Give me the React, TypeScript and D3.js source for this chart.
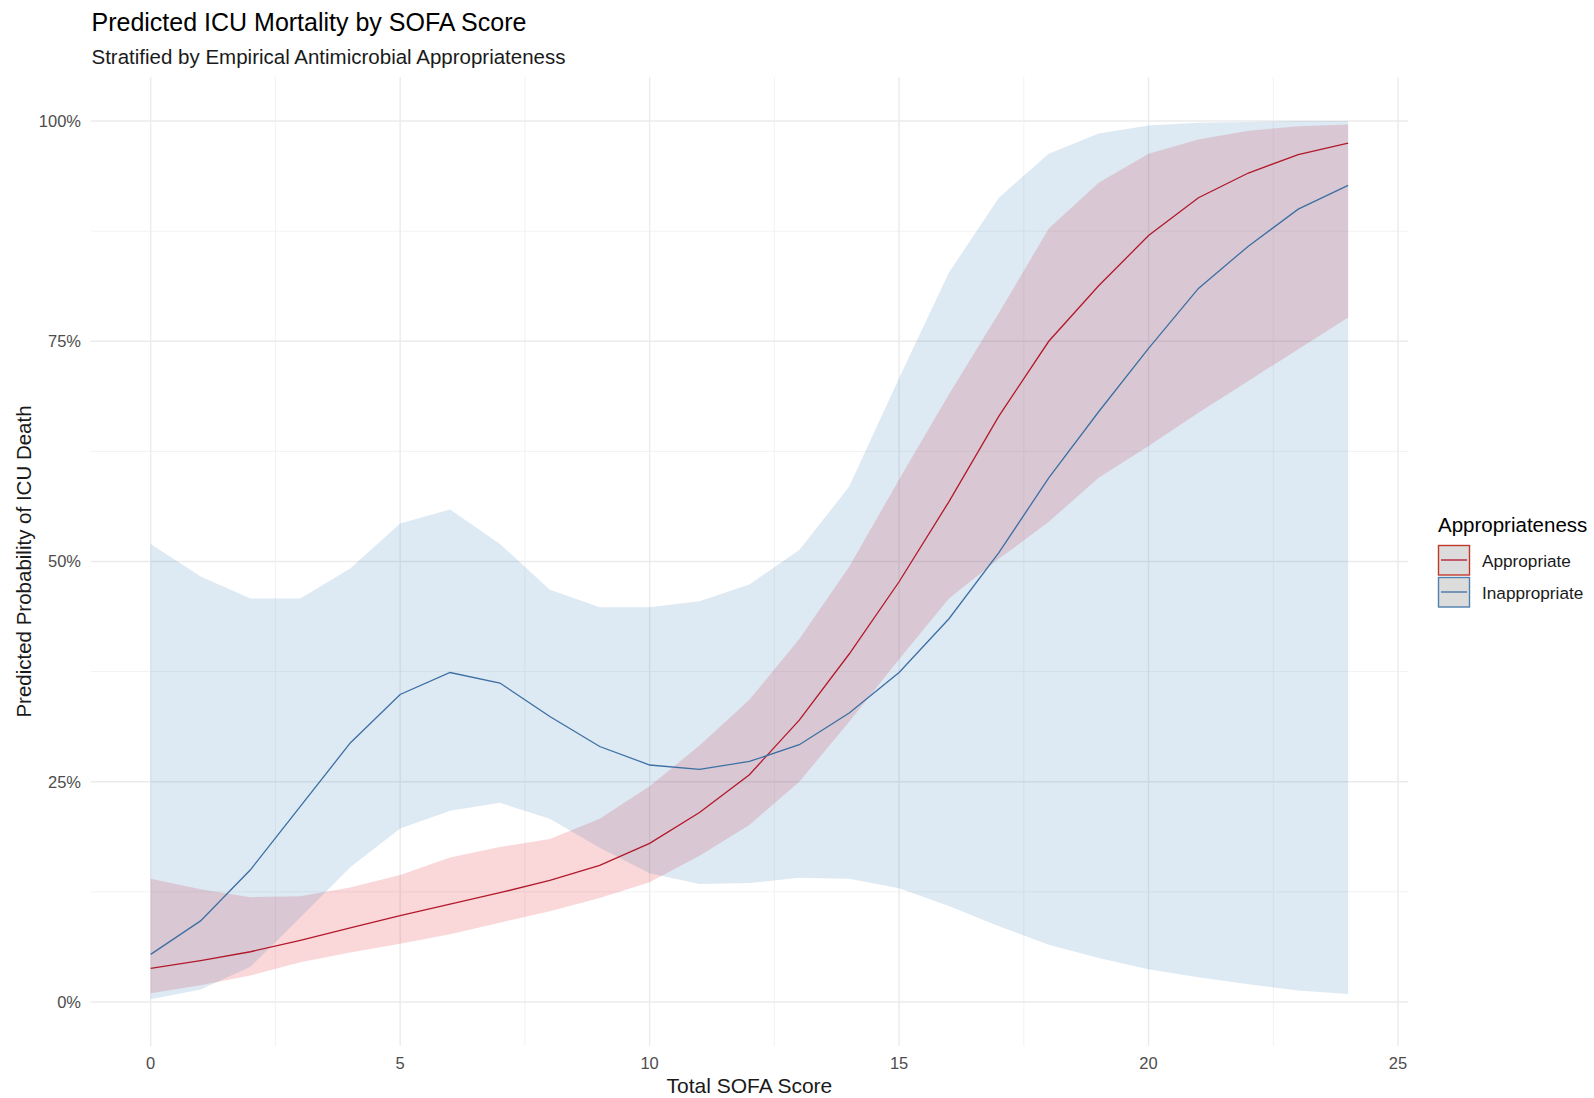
import React from "react";
import * as d3 from "d3";

const sofa = [0, 1, 2, 3, 4, 5, 6, 7, 8, 9, 10, 11, 12, 13, 14, 15, 16, 17, 18, 19, 20, 21, 22, 23, 24];

const appropriateFit = [3.8, 4.7, 5.7, 7.0, 8.4, 9.8, 11.1, 12.4, 13.8, 15.5, 18.0, 21.5, 25.8, 32.0, 39.5, 47.7, 56.8, 66.5, 75.0, 81.3, 87.0, 91.3, 94.1, 96.2, 97.5];
const appropriateLow = [1.0, 1.9, 3.0, 4.5, 5.6, 6.6, 7.7, 9.0, 10.3, 11.8, 13.6, 16.6, 20.1, 25.0, 31.8, 38.9, 45.8, 50.3, 54.5, 59.5, 63.1, 66.9, 70.5, 74.1, 77.7];
const appropriateHigh = [14.0, 12.8, 11.9, 12.0, 13.0, 14.4, 16.4, 17.6, 18.5, 20.8, 24.5, 29.1, 34.3, 41.2, 49.4, 59.3, 69.0, 78.2, 87.8, 93.0, 96.3, 97.9, 98.9, 99.4, 99.6];

const inappropriateFit = [5.4, 9.2, 15.0, 22.2, 29.4, 34.9, 37.4, 36.2, 32.4, 29.0, 26.9, 26.4, 27.3, 29.2, 32.8, 37.4, 43.5, 51.0, 59.5, 67.0, 74.2, 81.0, 85.8, 90.0, 92.7];
const inappropriateLow = [0.3, 1.4, 4.0, 9.6, 15.3, 19.7, 21.7, 22.6, 20.8, 17.5, 14.6, 13.4, 13.5, 14.1, 14.0, 12.9, 10.9, 8.6, 6.5, 5.0, 3.7, 2.8, 2.0, 1.3, 0.9];
const inappropriateHigh = [52.0, 48.3, 45.8, 45.8, 49.2, 54.3, 55.9, 52.0, 46.8, 44.8, 44.8, 45.5, 47.4, 51.3, 58.5, 70.8, 82.8, 91.3, 96.3, 98.6, 99.5, 99.8, 99.9, 100, 100];

const groupNames = ["Appropriate", "Inappropriate"];
const xTicks = [0, 5, 10, 15, 20, 25];
const xMinorTicks = [2.5, 7.5, 12.5, 17.5, 22.5];
const yTicks = [0, 0.25, 0.5, 0.75, 1];
const yMinorTicks = [0.125, 0.375, 0.625, 0.875];

const W = 1594;
const H = 1098;
const FONT = "'Liberation Sans', Arial, Helvetica, sans-serif";

const series = [
  { name: groupNames[0], fit: appropriateFit, low: appropriateLow, high: appropriateHigh, fill: "#E41A1C", line: "#B2182B", key: "#C0392B" },
  { name: groupNames[1], fit: inappropriateFit, low: inappropriateLow, high: inappropriateHigh, fill: "#377EB8", line: "#3C6FA3", key: "#4F81B0" },
];

export default function App() {
  const x = d3.scaleLinear().domain([-1.2, 25.2]).range([90.8, 1408]);
  const y = d3.scaleLinear().domain([-0.05, 1.05]).range([1046, 77]);
  const [x0, x1] = x.range();
  const [yb, yt] = y.range();
  const idx = sofa.map((_, i) => i);

  const makeArea = (low: number[], high: number[]) =>
    d3
      .area<number>()
      .x((i) => x(sofa[i]))
      .y0((i) => y(low[i] / 100))
      .y1((i) => y(high[i] / 100))(idx) || "";

  const makeLine = (vals: number[]) =>
    d3
      .line<number>()
      .x((i) => x(sofa[i]))
      .y((i) => y(vals[i] / 100))(idx) || "";

  return (
    <svg
      width={W}
      height={H}
      viewBox={`0 0 ${W} ${H}`}
      style={{ position: "absolute", left: 0, top: 0, background: "#fff" }}
      fontFamily={FONT}
    >
      <rect x={0} y={0} width={W} height={H} fill="#fff" />
      {xMinorTicks.map((t) => (
        <line key={"xm" + t} x1={x(t)} x2={x(t)} y1={yt} y2={yb} stroke="#F2F2F2" strokeWidth={1} />
      ))}
      {yMinorTicks.map((t) => (
        <line key={"ym" + t} x1={x0} x2={x1} y1={y(t)} y2={y(t)} stroke="#F2F2F2" strokeWidth={1} />
      ))}
      {xTicks.map((t) => (
        <line key={"xM" + t} x1={x(t)} x2={x(t)} y1={yt} y2={yb} stroke="#EBEBEB" strokeWidth={1.4} />
      ))}
      {yTicks.map((t) => (
        <line key={"yM" + t} x1={x0} x2={x1} y1={y(t)} y2={y(t)} stroke="#EBEBEB" strokeWidth={1.4} />
      ))}

      {series.map((s) => (
        <path key={"r" + s.name} d={makeArea(s.low, s.high)} fill={s.fill} fillOpacity={0.17} stroke="none" />
      ))}
      {series.map((s) => (
        <path key={"l" + s.name} d={makeLine(s.fit)} fill="none" stroke={s.line} strokeWidth={1.3} />
      ))}

      {yTicks.map((t) => (
        <text key={"yl" + t} x={81} y={y(t)} dy="0.36em" textAnchor="end" fontSize={16.5} fill="#4D4D4D">
          {d3.format(".0%")(t)}
        </text>
      ))}
      {xTicks.map((t) => (
        <text key={"xl" + t} x={x(t)} y={1068.5} textAnchor="middle" fontSize={16.5} fill="#4D4D4D">
          {t}
        </text>
      ))}

      <text x={(x0 + x1) / 2} y={1093} textAnchor="middle" fontSize={21} fill="#1A1A1A">
        Total SOFA Score
      </text>
      <text
        transform={`translate(31, ${(yt + yb) / 2}) rotate(-90)`}
        textAnchor="middle"
        fontSize={20.5}
        fill="#1A1A1A"
      >
        Predicted Probability of ICU Death
      </text>

      <text x={91.5} y={31} fontSize={25} fill="#000">
        Predicted ICU Mortality by SOFA Score
      </text>
      <text x={91.5} y={64} fontSize={20.5} fill="#1A1A1A">
        Stratified by Empirical Antimicrobial Appropriateness
      </text>

      <text x={1438} y={532} fontSize={20.5} fill="#000">
        Appropriateness
      </text>
      {series.map((s, i) => {
        const ky = 545 + i * 32;
        return (
          <g key={"lg" + s.name}>
            <rect x={1438.5} y={ky + 0.5} width={31} height={29.5} fill="#DCDCDC" stroke={s.key} strokeWidth={1.4} />
            <line x1={1441} x2={1467} y1={ky + 15} y2={ky + 15} stroke={s.line} strokeWidth={1.3} />
            <text x={1482} y={ky + 16} dy="0.36em" fontSize={17.2} fill="#1A1A1A">
              {s.name}
            </text>
          </g>
        );
      })}
    </svg>
  );
}
